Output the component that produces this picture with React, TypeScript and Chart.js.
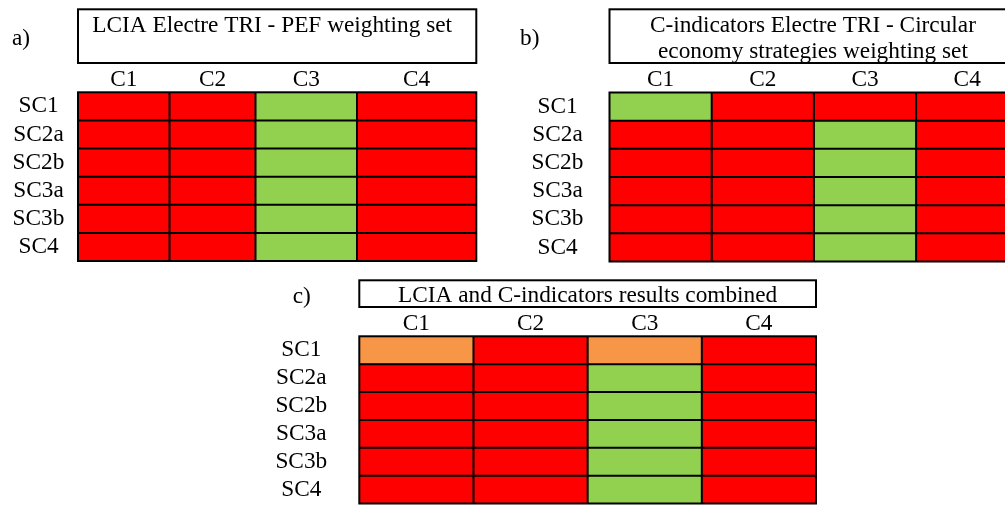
import React, { useEffect, useRef } from 'react';
import { Chart, registerables } from 'chart.js';

Chart.register(...registerables);

// ---------- data ----------
const SCENARIOS = ['SC1', 'SC2a', 'SC2b', 'SC3a', 'SC3b', 'SC4'];
const CRITERIA = ['C1', 'C2', 'C3', 'C4'];

// result class per scenario (row) and criterion (column)
// 0 = red, 1 = green, 2 = orange
const RESULTS_A = [
  [0, 0, 1, 0],
  [0, 0, 1, 0],
  [0, 0, 1, 0],
  [0, 0, 1, 0],
  [0, 0, 1, 0],
  [0, 0, 1, 0],
];
const RESULTS_B = [
  [1, 0, 0, 0],
  [0, 0, 1, 0],
  [0, 0, 1, 0],
  [0, 0, 1, 0],
  [0, 0, 1, 0],
  [0, 0, 1, 0],
];
const RESULTS_C = [
  [2, 0, 2, 0],
  [0, 0, 1, 0],
  [0, 0, 1, 0],
  [0, 0, 1, 0],
  [0, 0, 1, 0],
  [0, 0, 1, 0],
];

const TITLE_A = ['LCIA Electre TRI - PEF weighting set'];
const TITLE_B = ['C-indicators Electre TRI - Circular', 'economy strategies weighting set'];
const TITLE_C = ['LCIA and C-indicators results combined'];

const LETTER_A = 'a)';
const LETTER_B = 'b)';
const LETTER_C = 'c)';

// ---------- styles / layout ----------
const CLASS_COLORS = ['#FF0000', '#92D050', '#F79646'];
const FONT_FAMILY = '"Liberation Serif", "Times New Roman", serif';
const FONT_SIZE = 23.3;

type PanelLayout = {
  left: number;
  top: number;
  width: number;
  height: number;
  yAxisWidth: number;
  xAxisHeight: number;
  padTop: number;
  padRight: number;
  padBottom: number;
  labelPad: number;
  colWidths: number[];
  boxTop: number;
  boxBottom: number;
  titleShift: number;
  titleBaselines: number[];
  letterX: number;
  letterY: number;
};

const LAYOUT_A: PanelLayout = {
  left: 0, top: 0, width: 500, height: 270,
  yAxisWidth: 78, xAxisHeight: 32.3, padTop: 60, padRight: 23.7, padBottom: 9,
  labelPad: 13.6,
  colWidths: [91.5, 86, 101.5, 119.3],
  boxTop: 9.3, boxBottom: 63, titleShift: -5, titleBaselines: [32],
  letterX: 12, letterY: 44.5,
};
const LAYOUT_B: PanelLayout = {
  left: 500, top: 0, width: 530, height: 270,
  yAxisWidth: 109.5, xAxisHeight: 32.5, padTop: 60, padRight: 11.7, padBottom: 8.5,
  labelPad: 26.1,
  colWidths: [1, 1, 1, 1],
  boxTop: 9.3, boxBottom: 63, titleShift: -1, titleBaselines: [32, 57.5],
  letterX: 20, letterY: 45,
};
const LAYOUT_C: PanelLayout = {
  left: 270, top: 270, width: 560, height: 235,
  yAxisWidth: 89.3, xAxisHeight: 30.3, padTop: 36, padRight: 14, padBottom: 1.5,
  labelPad: 32.1,
  colWidths: [1, 1, 1, 1],
  boxTop: 10.3, boxBottom: 37, titleShift: 0, titleBaselines: [32],
  letterX: 22.7, letterY: 33,
};

function clearScalePadding(scale: any) {
  scale.paddingTop = 0;
  scale.paddingBottom = 0;
  scale.paddingLeft = 0;
  scale.paddingRight = 0;
}

function buildConfig(results: number[][], title: string[], letter: string, L: PanelLayout): any {
  const total = L.colWidths.reduce((a, b) => a + b, 0);
  const bounds: number[] = [0];
  L.colWidths.forEach((w) => bounds.push(bounds[bounds.length - 1] + w));
  const centers = L.colWidths.map((w, i) => bounds[i] + w / 2);

  const datasets = CRITERIA.map((c, j) => ({
    label: c,
    data: SCENARIOS.map(() => L.colWidths[j]),
    backgroundColor: results.map((row) => CLASS_COLORS[row[j]]),
    borderWidth: 0,
    barPercentage: 1,
    categoryPercentage: 1,
  }));

  const font = { family: FONT_FAMILY, size: FONT_SIZE };

  const gridPlugin = {
    id: 'gridLines',
    afterDatasetsDraw(chart: any) {
      const { ctx, chartArea } = chart;
      const xs = chart.scales.x;
      const meta = chart.getDatasetMeta(0);
      ctx.save();
      ctx.strokeStyle = '#000';
      ctx.lineWidth = 2;
      ctx.beginPath();
      meta.data.forEach((el: any, i: number) => {
        if (i === 0) return;
        const { y, height } = el.getProps(['y', 'height'], true);
        const yy = y - height / 2;
        ctx.moveTo(chartArea.left, yy);
        ctx.lineTo(chartArea.right, yy);
      });
      bounds.slice(1, -1).forEach((v) => {
        const xx = xs.getPixelForValue(v);
        ctx.moveTo(xx, chartArea.top);
        ctx.lineTo(xx, chartArea.bottom);
      });
      ctx.stroke();
      ctx.strokeRect(chartArea.left, chartArea.top, chartArea.right - chartArea.left, chartArea.bottom - chartArea.top);
      ctx.restore();
    },
  };

  const titlePlugin = {
    id: 'panelTitle',
    afterDraw(chart: any) {
      const { ctx, chartArea } = chart;
      ctx.save();
      ctx.strokeStyle = '#000';
      ctx.lineWidth = 2;
      ctx.strokeRect(chartArea.left, L.boxTop, chartArea.right - chartArea.left, L.boxBottom - L.boxTop);
      ctx.fillStyle = '#000';
      ctx.font = `${FONT_SIZE}px ${FONT_FAMILY}`;
      ctx.textBaseline = 'alphabetic';
      ctx.textAlign = 'center';
      const cx = (chartArea.left + chartArea.right) / 2 + L.titleShift;
      title.forEach((line, i) => ctx.fillText(line, cx, L.titleBaselines[i]));
      ctx.textAlign = 'left';
      ctx.fillText(letter, L.letterX, L.letterY);
      ctx.restore();
    },
  };

  return {
    type: 'bar',
    data: { labels: SCENARIOS, datasets },
    options: {
      indexAxis: 'y',
      responsive: false,
      animation: false,
      layout: { padding: { top: L.padTop, right: L.padRight, bottom: L.padBottom, left: 0 } },
      plugins: { legend: { display: false }, tooltip: { enabled: false }, title: { display: false } },
      scales: {
        x: {
          type: 'linear',
          position: 'top',
          stacked: true,
          min: 0,
          max: total,
          grid: { display: false, drawTicks: false },
          border: { display: false },
          ticks: {
            autoSkip: false,
            maxRotation: 0,
            padding: -1.5,
            color: '#000',
            font,
            callback: (_v: any, i: number) => CRITERIA[i],
          },
          afterBuildTicks: (scale: any) => {
            scale.ticks = centers.map((v) => ({ value: v }));
          },
          afterFit: (scale: any) => {
            scale.height = L.xAxisHeight;
            clearScalePadding(scale);
          },
        },
        y: {
          type: 'category',
          stacked: true,
          grid: { display: false, drawTicks: false },
          border: { display: false },
          ticks: {
            autoSkip: false,
            crossAlign: 'center',
            padding: L.labelPad,
            color: '#000',
            font,
          },
          afterFit: (scale: any) => {
            scale.width = L.yAxisWidth;
            clearScalePadding(scale);
          },
        },
      },
    },
    plugins: [gridPlugin, titlePlugin],
  };
}

function Panel({ results, title, letter, layout }: { results: number[][]; title: string[]; letter: string; layout: PanelLayout }) {
  const ref = useRef<HTMLCanvasElement | null>(null);
  useEffect(() => {
    if (!ref.current) return;
    const chart = new Chart(ref.current, buildConfig(results, title, letter, layout));
    return () => chart.destroy();
  }, [results, title, letter, layout]);
  return (
    <canvas
      ref={ref}
      width={layout.width}
      height={layout.height}
      style={{ position: 'absolute', left: layout.left, top: layout.top, width: layout.width, height: layout.height }}
    />
  );
}

export default function App() {
  return (
    <div
      style={{
        position: 'fixed',
        left: 0,
        top: 0,
        width: 1005,
        height: 505,
        overflow: 'hidden',
        background: '#fff',
      }}
    >
      <Panel results={RESULTS_A} title={TITLE_A} letter={LETTER_A} layout={LAYOUT_A} />
      <Panel results={RESULTS_B} title={TITLE_B} letter={LETTER_B} layout={LAYOUT_B} />
      <Panel results={RESULTS_C} title={TITLE_C} letter={LETTER_C} layout={LAYOUT_C} />
    </div>
  );
}
